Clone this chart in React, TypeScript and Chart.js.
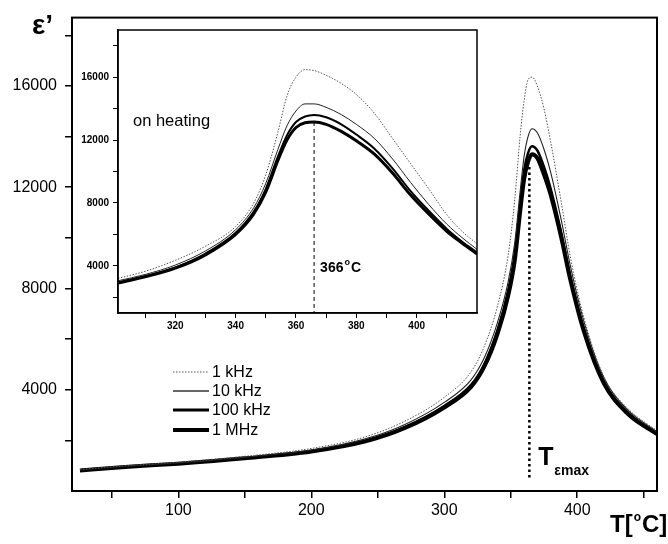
import React, { useEffect, useRef } from 'react';
import { Chart, registerables } from 'chart.js';

Chart.register(...registerables);

const FONT = '"Liberation Sans", Arial, Helvetica, sans-serif';

// ---------- main plot data ----------
const mainTemps = [26, 60, 100, 150, 200, 240, 270, 300, 320, 330, 340, 348, 353, 357, 360, 363, 366, 370, 375, 380, 388, 395, 405, 420, 438, 460];
const main1kHz = [850, 1000, 1140, 1370, 1680, 2130, 2750, 3700, 4700, 5700, 7300, 9300, 11500, 14000, 15400, 16250, 16350, 16000, 15100, 13800, 11400, 9200, 6850, 4520, 3260, 2380];
const main10kHz = [830, 975, 1110, 1330, 1620, 2050, 2620, 3500, 4380, 5250, 6650, 8250, 9800, 11800, 13200, 14000, 14310, 14150, 13500, 12600, 10700, 8850, 6700, 4480, 3200, 2340];
const main100kHz = [820, 960, 1090, 1300, 1580, 1980, 2520, 3360, 4180, 5000, 6350, 7900, 9350, 11300, 12650, 13350, 13620, 13450, 12800, 11950, 10200, 8450, 6420, 4330, 3100, 2280];
const main1MHz = [810, 950, 1080, 1290, 1560, 1950, 2480, 3300, 4100, 4900, 6200, 7700, 9100, 11000, 12300, 13000, 13300, 13150, 12500, 11700, 10000, 8300, 6300, 4250, 3050, 2250];

// ---------- inset data ----------
const insetTemps = [301, 310, 320, 330, 340, 346, 350, 354, 357, 360, 363, 366, 370, 375, 380, 386, 392, 398, 404, 410, 415, 420];
const inset1kHz = [3200, 3650, 4350, 5250, 6500, 8000, 9800, 12500, 14800, 16000, 16480, 16420, 16120, 15600, 14900, 13700, 12100, 10500, 8900, 7250, 6200, 5400];
const inset10kHz = [3050, 3450, 4050, 4950, 6300, 7700, 9250, 11400, 12900, 13850, 14300, 14300, 14080, 13620, 13000, 12100, 10800, 9300, 7900, 6650, 5800, 5050];
const inset100kHz = [2950, 3350, 3900, 4780, 6100, 7450, 8900, 10950, 12300, 13150, 13500, 13600, 13450, 13000, 12350, 11450, 10200, 8750, 7500, 6350, 5550, 4850];
const inset1MHz = [2900, 3300, 3850, 4700, 6000, 7300, 8700, 10700, 12000, 12800, 13100, 13150, 13000, 12550, 11950, 11100, 9900, 8500, 7300, 6200, 5450, 4750];

// ---------- ticks / labels ----------
const seriesNames = ['1 kHz', '10 kHz', '100 kHz', '1 MHz'];
const mainXTicks = [50, 100, 150, 200, 250, 300, 350, 400, 450];
const mainXLabels = [100, 200, 300, 400];
const mainYTicks = [2000, 4000, 6000, 8000, 10000, 12000, 14000, 16000, 18000];
const mainYLabels = [4000, 8000, 12000, 16000];
const insetXTicks = [310, 320, 330, 340, 350, 360, 370, 380, 390, 400, 410];
const insetXLabels = [320, 340, 360, 380, 400];
const insetYTicks = [2000, 4000, 6000, 8000, 10000, 12000, 14000, 16000, 18000];
const insetYLabels = [4000, 8000, 12000, 16000];
const tMaxMain = 364;
const tMaxMainRange = [12800, 430];
const tMaxInset = 366;
const tMaxInsetRange = [13150, 1000];

// ---------- styles ----------
const mainStyles = [
  { color: '#555', width: 1, dash: [1.5, 1.5] },
  { color: '#222', width: 1.1, dash: [] },
  { color: '#000', width: 2.5, dash: [] },
  { color: '#000', width: 4, dash: [] },
];
const insetStyles = [
  { color: '#555', width: 1, dash: [1.5, 1.5] },
  { color: '#222', width: 1, dash: [] },
  { color: '#000', width: 2, dash: [] },
  { color: '#000', width: 3, dash: [] },
];
const legendStyles = [
  { color: '#555', width: 1, dash: [1.5, 1.5] },
  { color: '#333', width: 1.3, dash: [] },
  { color: '#000', width: 3, dash: [] },
  { color: '#000', width: 4, dash: [] },
];

function buildDatasets(temps: number[], series: number[][], styles: any[]) {
  return series.map((vals, i) => ({
    label: seriesNames[i],
    data: temps.map((t, j) => ({ x: t, y: vals[j] })),
    borderColor: styles[i].color,
    borderWidth: styles[i].width,
    borderDash: styles[i].dash,
    pointRadius: 0,
    fill: false,
    cubicInterpolationMode: 'monotone' as const,
  }));
}

function drawDegText(ctx: CanvasRenderingContext2D, x: number, y: number, before: string, after: string, size: number, supSize: number, raise: number) {
  ctx.textAlign = 'left';
  ctx.textBaseline = 'alphabetic';
  ctx.font = `bold ${size}px ${FONT}`;
  ctx.fillText(before, x, y);
  let w = ctx.measureText(before).width + 1;
  ctx.font = `bold ${supSize}px ${FONT}`;
  ctx.fillText('o', x + w, y - raise);
  w += ctx.measureText('o').width + 1;
  ctx.font = `bold ${size}px ${FONT}`;
  ctx.fillText(after, x + w, y);
}

const mainOverlay = {
  id: 'mainOverlay',
  afterDraw(chart: any) {
    const { ctx, chartArea: a, scales } = chart;
    const xs = scales.x;
    const ys = scales.y;
    ctx.save();
    ctx.strokeStyle = '#000';
    ctx.lineWidth = 2;
    ctx.setLineDash([]);
    ctx.strokeRect(a.left, a.top, a.right - a.left, a.bottom - a.top);

    // T_emax dotted line
    const xm = xs.getPixelForValue(tMaxMain);
    ctx.setLineDash([2.5, 3]);
    ctx.lineWidth = 2.5;
    ctx.beginPath();
    ctx.moveTo(xm, ys.getPixelForValue(tMaxMainRange[0]));
    ctx.lineTo(xm, ys.getPixelForValue(tMaxMainRange[1]));
    ctx.stroke();
    ctx.setLineDash([]);

    ctx.fillStyle = '#000';
    // T_emax label
    ctx.textAlign = 'left';
    ctx.textBaseline = 'alphabetic';
    ctx.font = `bold 25px ${FONT}`;
    ctx.fillText('T', xm + 9, 465);
    ctx.font = `bold 14px ${FONT}`;
    ctx.fillText('\u03B5max', xm + 25, 475);

    // legend
    const rows = [372, 391, 410, 430];
    rows.forEach((ry, i) => {
      const s = legendStyles[i];
      ctx.strokeStyle = s.color;
      ctx.lineWidth = s.width;
      ctx.setLineDash(s.dash);
      ctx.beginPath();
      ctx.moveTo(173, ry);
      ctx.lineTo(209, ry);
      ctx.stroke();
      ctx.setLineDash([]);
      ctx.fillStyle = '#000';
      ctx.font = `16px ${FONT}`;
      ctx.textBaseline = 'middle';
      ctx.fillText(seriesNames[i], 212, ry + 1);
    });

    // axis titles
    ctx.fillStyle = '#000';
    ctx.textBaseline = 'alphabetic';
    ctx.font = `bold 28px ${FONT}`;
    ctx.fillText('\u03B5\u2019', 32, 34);
    drawDegText(ctx, 610, 532, 'T[', 'C]', 24, 12, 11);
    ctx.restore();
  },
};

const insetOverlay = {
  id: 'insetOverlay',
  afterDraw(chart: any) {
    const { ctx, chartArea: a, scales } = chart;
    const xs = scales.x;
    const ys = scales.y;
    ctx.save();
    ctx.strokeStyle = '#000';
    ctx.lineWidth = 1.5;
    ctx.setLineDash([]);
    ctx.strokeRect(a.left, a.top, a.right - a.left, a.bottom - a.top);

    const xm = xs.getPixelForValue(tMaxInset);
    ctx.setLineDash([4, 3]);
    ctx.lineWidth = 1;
    ctx.beginPath();
    ctx.moveTo(xm, ys.getPixelForValue(tMaxInsetRange[0]));
    ctx.lineTo(xm, ys.getPixelForValue(tMaxInsetRange[1]));
    ctx.stroke();
    ctx.setLineDash([]);

    ctx.fillStyle = '#000';
    ctx.textAlign = 'left';
    ctx.textBaseline = 'middle';
    ctx.font = `16.5px ${FONT}`;
    ctx.fillText('on heating', a.left + 15, a.top + 91);

    drawDegText(ctx, xm + 6, 272 - 20, '366', 'C', 14, 9, 7);
    ctx.restore();
  },
};

function axisX(min: number, max: number, tickList: number[], labelList: number[], fontSize: number, bold: boolean, tickLen: number, pad: number, height: number, bw: number) {
  return {
    type: 'linear' as const,
    min,
    max,
    afterBuildTicks: (s: any) => { s.ticks = tickList.map((v) => ({ value: v })); },
    afterFit: (s: any) => { s.height = height; },
    ticks: {
      autoSkip: false,
      maxRotation: 0,
      padding: pad,
      color: '#000',
      font: { family: FONT, size: fontSize, weight: bold ? 'bold' : 'normal' },
      callback: (v: any) => (labelList.includes(Number(v)) ? String(v) : ''),
    },
    grid: { drawOnChartArea: false, drawTicks: true, tickLength: tickLen, color: '#000', lineWidth: bw },
    border: { display: true, color: '#000', width: bw + 0.5 },
  };
}

function axisY(min: number, max: number, tickList: number[], labelList: number[], fontSize: number, bold: boolean, tickLen: number, pad: number, width: number, bw: number) {
  return {
    type: 'linear' as const,
    min,
    max,
    afterBuildTicks: (s: any) => { s.ticks = tickList.map((v) => ({ value: v })); },
    afterFit: (s: any) => { s.width = width; },
    ticks: {
      autoSkip: false,
      padding: pad,
      color: '#000',
      font: { family: FONT, size: fontSize, weight: bold ? 'bold' : 'normal' },
      callback: (v: any) => (labelList.includes(Number(v)) ? String(v) : ''),
    },
    grid: { drawOnChartArea: false, drawTicks: true, tickLength: tickLen, color: '#000', lineWidth: bw },
    border: { display: true, color: '#000', width: bw + 0.5 },
  };
}

export default function App() {
  const mainRef = useRef<HTMLCanvasElement | null>(null);
  const insetRef = useRef<HTMLCanvasElement | null>(null);

  useEffect(() => {
    if (!mainRef.current || !insetRef.current) return;
    const main = new Chart(mainRef.current, {
      type: 'line',
      data: {
        datasets: buildDatasets(mainTemps, [main1kHz, main10kHz, main100kHz, main1MHz], mainStyles) as any,
      },
      options: {
        responsive: false,
        animation: false,
        devicePixelRatio: 1,
        layout: { padding: { left: 0, top: 15, right: 11, bottom: 0 } },
        plugins: { legend: { display: false }, tooltip: { enabled: false } },
        scales: {
          x: axisX(20, 460, mainXTicks, mainXLabels, 16, false, 7, 3, 53, 1.5) as any,
          y: axisY(0, 18700, mainYTicks, mainYLabels, 16, false, 7, 8, 72, 1.5) as any,
        },
      },
      plugins: [mainOverlay],
    });
    const inset = new Chart(insetRef.current, {
      type: 'line',
      data: {
        datasets: buildDatasets(insetTemps, [inset1kHz, inset10kHz, inset100kHz, inset1MHz], insetStyles) as any,
      },
      options: {
        responsive: false,
        animation: false,
        devicePixelRatio: 1,
        layout: { padding: { left: 0, top: 7, right: 13, bottom: 0 } },
        plugins: { legend: { display: false }, tooltip: { enabled: false } },
        scales: {
          x: axisX(301, 420, insetXTicks, insetXLabels, 10, true, 5, 2, 32, 1) as any,
          y: axisY(1000, 19000, insetYTicks, insetYLabels, 10, true, 5, 4, 38, 1) as any,
        },
      },
      plugins: [insetOverlay],
    });
    return () => {
      main.destroy();
      inset.destroy();
    };
  }, []);

  return (
    <div style={{ position: 'fixed', left: 0, top: 0, width: 668, height: 544, background: '#fff' }}>
      <canvas ref={mainRef} width={668} height={544} style={{ position: 'absolute', left: 0, top: 0 }} />
      <canvas ref={insetRef} width={410} height={325} style={{ position: 'absolute', left: 80, top: 20 }} />
    </div>
  );
}
